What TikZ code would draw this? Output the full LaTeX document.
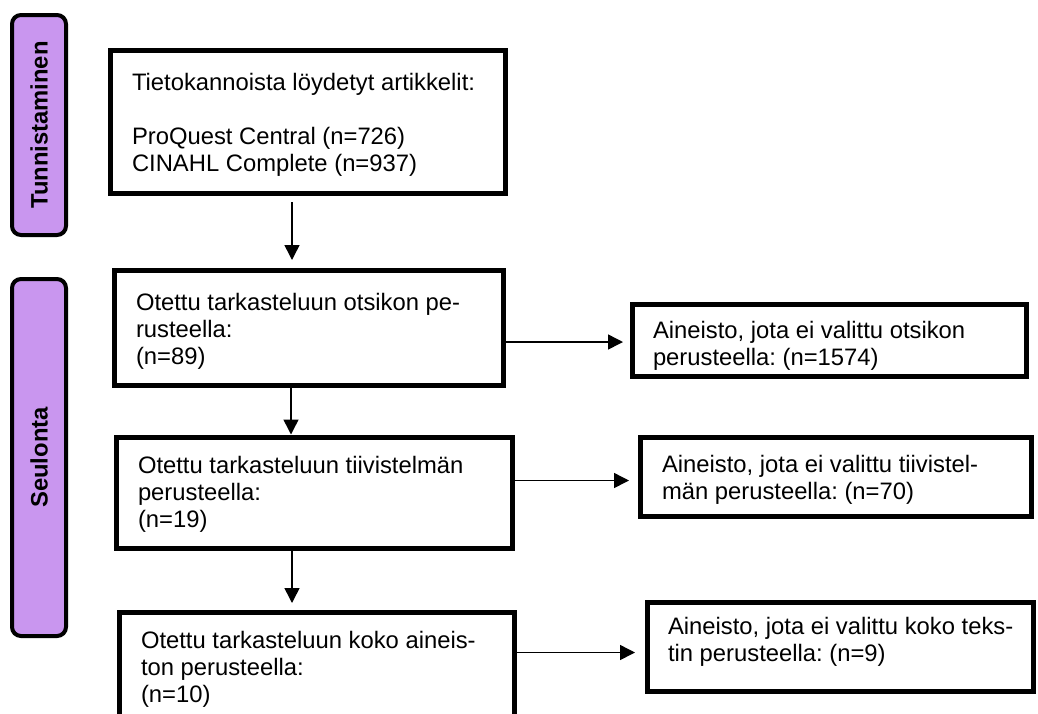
\documentclass[tikz,border=0pt]{standalone}
\usepackage{fontspec}
\setmainfont{Liberation Sans}
\usetikzlibrary{arrows.meta}
\frenchspacing
\definecolor{phasefill}{RGB}{201,150,239}
\newcommand{\bxtext}[4]{\parbox[t][#1][t]{#2}{\vspace*{#3}#4}}
\newcommand{\bl}[1]{\mbox{\rule{0pt}{18pt}#1}}
\tikzset{
  flowbox/.style={draw=black, line width=5pt, inner xsep=22pt, inner ysep=0pt, outer sep=0pt, anchor=north west, font=\fontsize{23.8}{27}\selectfont},
  phase/.style={draw=black, fill=phasefill, line width=4pt, rounded corners=9pt, rotate=90, minimum height=54pt, inner sep=0pt, font=\fontsize{23.8}{27}\selectfont\bfseries},
  arr/.style={line width=1.5pt, -{Triangle[length=15pt,width=15pt]}}
}
\begin{document}
\begin{tikzpicture}[x=1pt,y=-1pt]
\useasboundingbox (0,0) rectangle (1038,713);
\clip (0,0) rectangle (1038,713);
\node[phase, minimum width=220pt] (p1) at (39,125) {Tunnistaminen};
\node[phase, minimum width=357pt] (p2) at (39,457.5) {Seulonta};
\node[flowbox] (b1) at (110,50) {\bxtext{143pt}{351pt}{22pt}{\bl{Tietokannoista löydetyt artikkelit:}\\[27pt]\bl{ProQuest Central (n=726)}\\\bl{CINAHL Complete (n=937)}}};
\node[flowbox] (b2) at (114,270) {\bxtext{115pt}{345pt}{22pt}{\bl{Otettu tarkasteluun otsikon pe-}\\\bl{rusteella:}\\\bl{(n=89)}}};
\node[flowbox] (b3) at (116,437) {\bxtext{111pt}{352pt}{18pt}{\bl{Otettu tarkasteluun tiivistelmän}\\\bl{perusteella:}\\\bl{(n=19)}}};
\node[flowbox] (b4) at (119,612) {\bxtext{130pt}{351pt}{18pt}{\bl{Otettu tarkasteluun koko aineis-}\\\bl{ton perusteella:}\\\bl{(n=10)}}};
\node[flowbox, inner xsep=21pt] (r1) at (632,304) {\bxtext{72pt}{352pt}{16pt}{\bl{Aineisto, jota ei valittu otsikon}\\\bl{perusteella: (n=1574)}}};
\node[flowbox] (r2) at (640,437) {\bxtext{79pt}{347pt}{17pt}{\bl{Aineisto, jota ei valittu tiivistel-}\\\bl{män perusteella: (n=70)}}};
\node[flowbox, inner xsep=21pt] (r3) at (647,602) {\bxtext{89pt}{344pt}{14pt}{\bl{Aineisto, jota ei valittu koko teks-}\\\bl{tin perusteella: (n=9)}}};
\draw[arr, shorten <=9pt, shorten >=10pt] ([xshift=-15.5pt]b1.south) -- ([xshift=-15.5pt]b1.south |- b2.north);
\draw[arr, shorten >=2.5pt] ([xshift=-17.5pt]b2.south) -- ([xshift=-17.5pt]b2.south |- b3.north);
\draw[arr, shorten >=9pt] ([xshift=-22pt]b3.south) -- ([xshift=-22pt]b3.south |- b4.north);
\coordinate (r1in) at ([yshift=-2pt]r1.west);
\coordinate (r2in) at ([yshift=-4pt]r2.west);
\coordinate (r3in) at ([yshift=-6pt]r3.west);
\draw[arr, shorten >=9pt] (r1in -| b2.east) -- (r1in);
\draw[arr, shorten >=11pt] (r2in -| b3.east) -- (r2in);
\draw[arr, shorten >=12pt] (r3in -| b4.east) -- (r3in);
\end{tikzpicture}
\end{document}
